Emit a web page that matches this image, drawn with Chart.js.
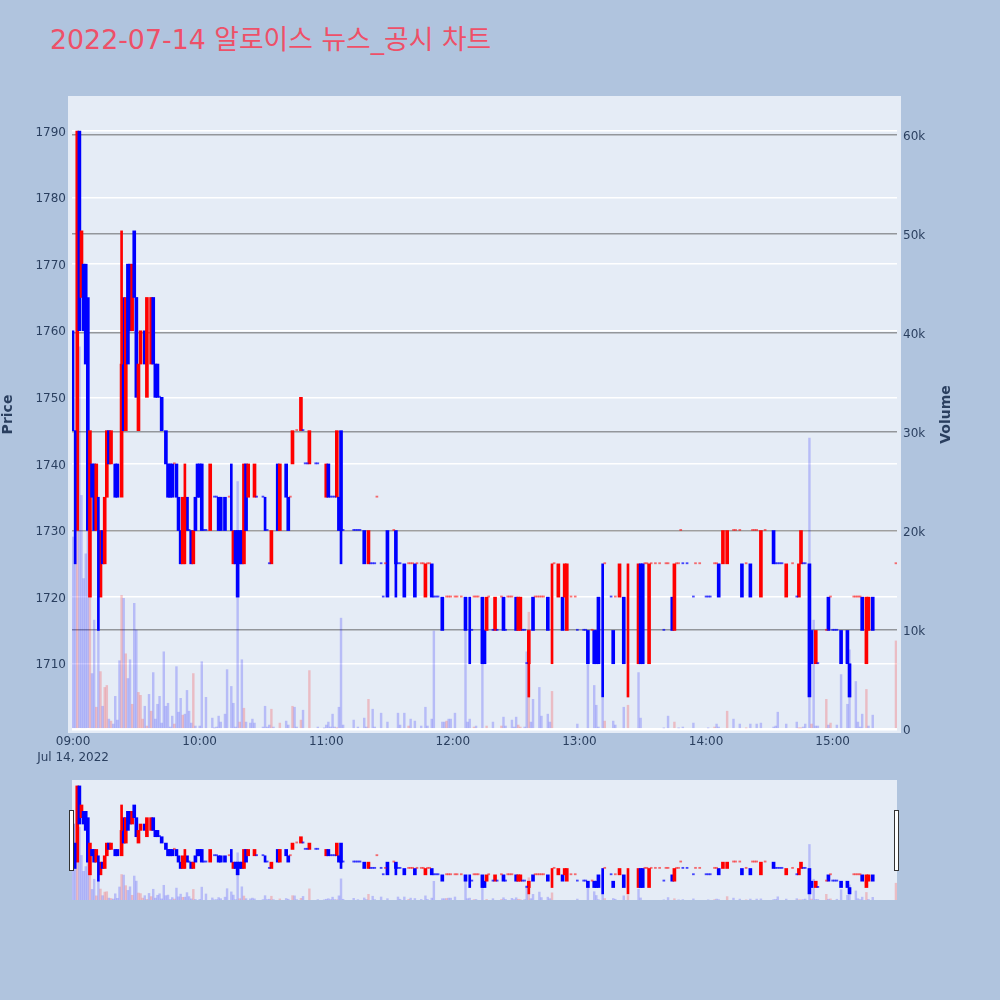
<!DOCTYPE html>
<html lang="ko">
<head>
<meta charset="utf-8">
<title>2022-07-14 알로이스 뉴스_공시 차트</title>
<script src="https://cdn.jsdelivr.net/npm/chart.js@4"></script>
<style>
  html, body { margin: 0; padding: 0; background: #b0c4de; }
  .c-site { position: relative; width: 1000px; height: 1000px; overflow: hidden; }
  .c-title {
    position: absolute; left: 50px; top: 21px; margin: 0; white-space: nowrap;
    font: 400 26.8px "DejaVu Sans", "Noto Sans CJK KR", sans-serif; line-height: 38px; color: #ee5068;
  }
  canvas { position: absolute; left: 0; }
  #myChart { top: 0; }
  #mySlider { top: 770px; }
</style>
</head>
<body>
<div class="c-site">
  <h1 class="c-title">2022-07-14 알로이스 뉴스_공시 차트</h1>
  <canvas id="myChart" width="1000" height="780"></canvas>
  <canvas id="mySlider" width="1000" height="140"></canvas>
</div>
<script>
// minutes after 09:00
const candleTimes = [
  0, 1, 2, 3, 4, 5, 6, 7, 8, 9,
  10, 11, 12, 13, 14, 15, 16, 17, 18, 20,
  21, 23, 24, 25, 26, 27, 28, 29, 30, 31,
  32, 34, 35, 37, 38, 39, 40, 41, 42,
  44, 45, 46, 47, 48, 49, 50, 51, 52, 53,
  54, 55, 56, 57, 58, 59, 60, 61, 62, 63,
  65, 67, 68, 69, 70, 72, 74, 75, 76, 77,
  78, 79, 80, 81, 82, 83, 86, 87, 90, 91,
  92, 93, 94, 97, 98, 101, 102, 103, 104, 106,
  108, 109, 110, 111, 112, 115, 116, 120, 121, 122,
  123, 124, 125, 126, 127, 128, 133, 134, 135, 136,
  138, 140, 141, 142, 143, 144, 146, 147, 148, 149,
  152, 153, 154, 155, 157, 159, 160, 161, 162, 163,
  165, 166, 167, 168, 169, 170, 171, 172, 173, 175,
  177, 178, 179, 181, 182, 184, 186, 188, 189, 190,
  191, 192, 194, 195, 196, 197, 199, 200, 201, 203,
  204, 205, 206, 207, 208, 210, 211, 212, 213, 214,
  215, 216, 218, 219, 220, 221, 222, 223, 225, 227,
  228, 230, 232, 233, 234, 236, 238, 239, 242, 243,
  244, 246, 247, 248, 249, 251, 252, 255, 256, 257,
  259, 261, 263, 268, 269, 270, 271, 272, 273, 274,
  276, 278, 280, 281, 282, 284, 285, 286, 287, 288,
  289, 291, 294, 295, 297, 300, 301, 302, 304, 305,
  306, 308, 310, 313, 314, 316, 317, 319, 321, 322,
  323, 324, 326, 328, 332, 333, 334, 335, 336, 338,
  341, 343, 344, 345, 346, 347, 349, 350, 352, 353,
  357, 358, 359, 360, 361, 362, 364, 367, 368, 370,
  371, 372, 373, 374, 376, 377, 379, 390,
];
const candleLows = [
  1745, 1725, 1730, 1760, 1765, 1760, 1755, 1730, 1720, 1735,
  1730, 1730, 1715, 1720, 1725, 1725, 1735, 1740, 1740, 1735,
  1735, 1735, 1745, 1745, 1755, 1760, 1760, 1765, 1750, 1745,
  1755, 1755, 1750, 1755, 1755, 1750, 1750, 1750, 1745,
  1740, 1735, 1735, 1735, 1740, 1735, 1730, 1725, 1725, 1725,
  1730, 1730, 1725, 1725, 1730, 1735, 1735, 1730, 1730, 1730,
  1730, 1735, 1735, 1730, 1730, 1730, 1735, 1730, 1725, 1725,
  1720, 1725, 1725, 1725, 1730, 1735, 1735, 1735, 1735, 1730,
  1730, 1725, 1725, 1730, 1730, 1735, 1730, 1735, 1740, 1745,
  1745, 1745, 1740, 1740, 1740, 1740, 1740, 1735, 1735, 1735,
  1735, 1735, 1735, 1730, 1730, 1730, 1730, 1730, 1730, 1730,
  1725, 1725, 1725, 1725, 1725, 1735, 1725, 1720, 1725, 1720,
  1730, 1725, 1725, 1725, 1720, 1725, 1725, 1725, 1720, 1725,
  1725, 1725, 1720, 1725, 1725, 1720, 1720, 1720, 1720, 1715,
  1720, 1720, 1720, 1720, 1720, 1720, 1715, 1710, 1715, 1720,
  1720, 1720, 1710, 1710, 1715, 1720, 1715, 1715, 1715, 1720,
  1715, 1715, 1720, 1720, 1720, 1715, 1715, 1715, 1715, 1715,
  1710, 1710, 1715, 1720, 1720, 1720, 1720, 1720, 1715, 1710,
  1725, 1720, 1715, 1720, 1715, 1720, 1720, 1715, 1715, 1715,
  1710, 1715, 1710, 1710, 1710, 1705, 1725, 1720, 1710, 1720,
  1720, 1710, 1705, 1710, 1710, 1710, 1725, 1725, 1710, 1725,
  1725, 1725, 1715, 1725, 1725, 1715, 1715, 1725, 1725, 1730,
  1725, 1725, 1720, 1725, 1725, 1720, 1720, 1720, 1725, 1725,
  1720, 1725, 1725, 1730, 1730, 1730, 1720, 1725, 1720, 1730,
  1730, 1730, 1720, 1730, 1725, 1725, 1725, 1725, 1725, 1720,
  1725, 1720, 1720, 1725, 1725, 1725, 1705, 1710, 1710, 1710,
  1715, 1715, 1720, 1715, 1715, 1715, 1710, 1710, 1705, 1720,
  1720, 1720, 1720, 1715, 1710, 1715, 1715, 1725,
];
const candleHighs = [
  1760, 1745, 1790, 1790, 1775, 1770, 1770, 1765, 1745, 1740,
  1740, 1740, 1735, 1730, 1730, 1735, 1745, 1745, 1745, 1740,
  1740, 1755, 1765, 1765, 1770, 1770, 1770, 1775, 1765, 1755,
  1760, 1760, 1765, 1765, 1765, 1755, 1755, 1750, 1750,
  1745, 1740, 1740, 1740, 1740, 1740, 1735, 1730, 1735, 1740,
  1735, 1730, 1730, 1730, 1735, 1740, 1740, 1740, 1730, 1730,
  1740, 1735, 1735, 1735, 1735, 1735, 1735, 1740, 1730, 1730,
  1730, 1730, 1730, 1740, 1740, 1740, 1740, 1735, 1735, 1735,
  1730, 1725, 1730, 1740, 1740, 1740, 1735, 1735, 1745, 1745,
  1750, 1745, 1740, 1740, 1745, 1740, 1740, 1740, 1740, 1735,
  1735, 1735, 1745, 1735, 1745, 1730, 1730, 1730, 1730, 1730,
  1730, 1730, 1725, 1725, 1725, 1735, 1725, 1720, 1725, 1730,
  1730, 1730, 1725, 1725, 1725, 1725, 1725, 1725, 1725, 1725,
  1725, 1725, 1725, 1725, 1725, 1725, 1720, 1720, 1720, 1720,
  1720, 1720, 1720, 1720, 1720, 1720, 1720, 1720, 1715, 1720,
  1720, 1720, 1720, 1715, 1720, 1720, 1715, 1720, 1715, 1720,
  1720, 1715, 1720, 1720, 1720, 1720, 1720, 1720, 1715, 1715,
  1710, 1715, 1720, 1720, 1720, 1720, 1720, 1720, 1720, 1725,
  1725, 1725, 1720, 1725, 1725, 1720, 1720, 1715, 1715, 1715,
  1715, 1715, 1715, 1715, 1720, 1725, 1725, 1720, 1715, 1720,
  1725, 1720, 1725, 1725, 1725, 1725, 1725, 1725, 1725, 1725,
  1725, 1725, 1715, 1725, 1725, 1720, 1725, 1725, 1725, 1730,
  1725, 1725, 1720, 1725, 1725, 1720, 1720, 1720, 1725, 1725,
  1725, 1730, 1730, 1730, 1730, 1730, 1725, 1725, 1725, 1730,
  1730, 1730, 1730, 1730, 1730, 1725, 1725, 1725, 1725, 1725,
  1725, 1720, 1725, 1730, 1725, 1725, 1725, 1715, 1715, 1710,
  1715, 1720, 1720, 1715, 1715, 1715, 1715, 1715, 1710, 1720,
  1720, 1720, 1720, 1720, 1720, 1720, 1720, 1725,
];
const candleSides = [
  'b', 'b', 'r', 'b', 'r', 'b', 'b', 'b', 'r', 'b',
  'b', 'r', 'b', 'r', 'b', 'r', 'r', 'b', 'r', 'b',
  'b', 'r', 'b', 'r', 'b', 'b', 'r', 'b', 'b', 'r',
  'r', 'b', 'r', 'r', 'b', 'b', 'b', 'b', 'b',
  'b', 'b', 'b', 'b', 'r', 'b', 'b', 'b', 'r', 'r',
  'b', 'b', 'b', 'r', 'b', 'b', 'b', 'b', 'b', 'b',
  'r', 'b', 'b', 'b', 'b', 'b', 'r', 'b', 'r', 'b',
  'b', 'b', 'b', 'r', 'b', 'r', 'r', 'b', 'b', 'b',
  'b', 'b', 'r', 'b', 'r', 'b', 'b', 'r', 'r', 'r',
  'r', 'b', 'b', 'b', 'r', 'b', 'b', 'r', 'b', 'b',
  'b', 'b', 'r', 'b', 'b', 'b', 'b', 'b', 'b', 'b',
  'b', 'r', 'b', 'b', 'b', 'r', 'b', 'b', 'r', 'b',
  'r', 'b', 'b', 'b', 'b', 'r', 'r', 'r', 'b', 'r',
  'r', 'r', 'r', 'r', 'r', 'b', 'b', 'b', 'b', 'b',
  'r', 'r', 'r', 'r', 'r', 'r', 'b', 'b', 'b', 'r',
  'r', 'r', 'b', 'b', 'r', 'r', 'b', 'r', 'b', 'r',
  'b', 'b', 'r', 'r', 'r', 'b', 'r', 'r', 'b', 'b',
  'b', 'r', 'b', 'r', 'r', 'r', 'r', 'r', 'b', 'r',
  'r', 'r', 'b', 'r', 'r', 'r', 'r', 'b', 'b', 'b',
  'b', 'r', 'b', 'b', 'b', 'b', 'r', 'b', 'b', 'r',
  'r', 'b', 'r', 'r', 'b', 'b', 'r', 'r', 'r', 'r',
  'r', 'r', 'b', 'r', 'r', 'b', 'r', 'r', 'r', 'r',
  'b', 'b', 'b', 'r', 'r', 'b', 'b', 'b', 'r', 'r',
  'b', 'r', 'r', 'r', 'r', 'r', 'b', 'r', 'b', 'r',
  'r', 'r', 'r', 'r', 'b', 'b', 'b', 'b', 'b', 'r',
  'r', 'b', 'r', 'r', 'b', 'b', 'b', 'b', 'r', 'b',
  'r', 'b', 'r', 'b', 'b', 'b', 'b', 'b', 'b', 'r',
  'r', 'r', 'r', 'b', 'r', 'r', 'b', 'r',
];
// candles that are drawn narrow, and the wick parts sticking out of a body
const narrowTimes = [0, 1, 12, 53, 75, 91, 188, 227, 251, 263];
const wickTimes = [23, 127, 153, 216];
const wickLows = [1755, 1725, 1720, 1705];
const wickHighs = [1775, 1730, 1725, 1710];
const wickSides = ['r', 'b', 'b', 'r'];

const volumeTimes = [
  0, 1, 2, 3, 4, 5, 6, 7, 8, 9,
  10, 11, 12, 13, 14, 15, 16, 17, 18, 19,
  20, 21, 22, 23, 24, 25, 26, 27, 28, 29,
  30, 31, 32, 33, 34, 35, 36, 37, 38, 39,
  40, 41, 42, 43, 44, 45, 46, 47, 48, 49,
  50, 51, 52, 53, 54, 55, 56, 57, 58, 60,
  61, 63, 66, 67, 68, 69, 70, 72, 73, 75,
  76, 77, 78, 79, 80, 81, 82, 84, 85, 86,
  90, 91, 92, 93, 94, 95, 98, 101, 102, 104,
  105, 106, 108, 109, 112, 116, 119, 120, 121, 122,
  123, 124, 125, 126, 127, 128, 133, 135, 138, 139,
  140, 142, 143, 146, 149, 154, 155, 157, 159, 160,
  162, 165, 167, 168, 170, 171, 175, 176, 177, 178,
  179, 181, 186, 187, 188, 190, 191, 194, 196, 199,
  203, 204, 205, 208, 209, 210, 211, 212, 214, 215,
  216, 217, 218, 221, 222, 225, 226, 227, 239, 244,
  247, 248, 249, 251, 252, 256, 257, 261, 263, 268,
  269, 280, 282, 285, 287, 289, 294, 301, 304, 305,
  306, 310, 313, 316, 319, 321, 324, 326, 332, 333,
  334, 338, 343, 344, 345, 346, 347, 349, 350, 351,
  352, 353, 357, 358, 359, 362, 364, 367, 368, 371,
  372, 373, 374, 376, 377, 379, 390,
];
const volumeValues = [
  19400, 20000, 20000, 38600, 23600, 15200, 17700, 42500, 13300, 5600,
  11000, 2200, 10000, 5800, 2300, 4200, 4400, 1000, 800, 500,
  3300, 900, 6900, 13500, 13200, 7600, 5100, 7000, 2500, 12700,
  10000, 3700, 3400, 1000, 2300, 300, 3500, 1800, 5700, 1000,
  2500, 3300, 600, 7800, 2300, 2600, 200, 1300, 500, 6300,
  1700, 3100, 1400, 1500, 3900, 1800, 600, 5600, 300, 300,
  6800, 3200, 1100, 100, 200, 1300, 700, 1500, 6000, 4300,
  2600, 200, 25000, 700, 7000, 2100, 700, 600, 1000, 600,
  200, 2300, 200, 400, 2000, 200, 600, 800, 400, 2300,
  2200, 200, 900, 1900, 5900, 200, 100, 400, 700, 200,
  1500, 200, 100, 2200, 11200, 400, 900, 200, 1100, 200,
  3000, 2000, 200, 1600, 700, 1600, 400, 1600, 300, 1000,
  800, 300, 2200, 300, 1000, 9900, 700, 700, 800, 1000,
  1000, 1600, 10700, 700, 1000, 200, 300, 7500, 300, 700,
  300, 1200, 300, 900, 200, 1200, 400, 200, 200, 7800,
  11800, 700, 3000, 4200, 1300, 1500, 700, 3800, 500, 6500,
  4400, 2400, 200, 3100, 800, 800, 400, 2200, 2400, 5700,
  1100, 100, 1300, 700, 100, 200, 600, 100, 200, 500,
  200, 1800, 1000, 500, 100, 500, 500, 600, 200, 300,
  1700, 500, 700, 100, 100, 200, 500, 29400, 500, 11000,
  300, 300, 3000, 400, 600, 400, 5500, 2500, 8000, 4800,
  700, 200, 1500, 4000, 300, 1400, 8900,
];
const volumeSides = [
  'b', 'b', 'r', 'b', 'b', 'b', 'b', 'b', 'r', 'b',
  'b', 'r', 'b', 'r', 'b', 'r', 'r', 'b', 'r', 'b',
  'b', 'b', 'b', 'r', 'b', 'r', 'b', 'b', 'r', 'b',
  'b', 'r', 'r', 'r', 'b', 'r', 'b', 'r', 'b', 'b',
  'b', 'b', 'b', 'b', 'b', 'b', 'b', 'b', 'r', 'b',
  'b', 'b', 'r', 'b', 'b', 'b', 'b', 'r', 'b', 'b',
  'b', 'b', 'b', 'b', 'b', 'b', 'b', 'b', 'b', 'b',
  'b', 'b', 'b', 'r', 'b', 'r', 'b', 'b', 'b', 'b',
  'b', 'b', 'b', 'b', 'r', 'b', 'r', 'b', 'b', 'r',
  'b', 'b', 'r', 'b', 'r', 'b', 'b', 'b', 'b', 'b',
  'b', 'b', 'r', 'b', 'b', 'b', 'b', 'b', 'b', 'b',
  'r', 'b', 'b', 'b', 'b', 'b', 'b', 'b', 'r', 'b',
  'b', 'b', 'b', 'b', 'b', 'b', 'b', 'b', 'r', 'b',
  'b', 'b', 'b', 'b', 'b', 'r', 'b', 'b', 'r', 'b',
  'r', 'b', 'b', 'b', 'b', 'b', 'r', 'r', 'b', 'b',
  'r', 'b', 'b', 'b', 'b', 'b', 'b', 'r', 'b', 'b',
  'b', 'b', 'b', 'b', 'r', 'b', 'b', 'b', 'r', 'b',
  'b', 'b', 'b', 'r', 'b', 'b', 'b', 'b', 'r', 'b',
  'b', 'r', 'b', 'b', 'r', 'b', 'b', 'b', 'b', 'b',
  'b', 'b', 'b', 'r', 'r', 'b', 'b', 'b', 'r', 'b',
  'b', 'b', 'r', 'b', 'r', 'b', 'b', 'b', 'b', 'b',
  'b', 'b', 'b', 'r', 'b', 'b', 'r',
];

const priceTicks = [1710, 1720, 1730, 1740, 1750, 1760, 1770, 1780, 1790];
const volumeTicks = [0, 10000, 20000, 30000, 40000, 50000, 60000];
const timeTicks = [0, 60, 120, 180, 240, 300, 360];
const timeLabels = ['09:00', '10:00', '11:00', '12:00', '13:00', '14:00', '15:00'];
const dateLabel = 'Jul 14, 2022';

const fontFamily = '"DejaVu Sans", verdana, arial, sans-serif';
const textColor = '#2a3f5f';
const candleColors = { r: '#ff0000', b: '#0000ff' };
const flatColors = { r: 'rgba(255, 0, 0, 0.55)', b: 'rgba(0, 0, 255, 0.7)' };
const volumeColors = { r: 'rgba(255, 0, 0, 0.2)', b: 'rgba(0, 0, 255, 0.2)' };

const makeDatasets = function () {
  const thick = [];
  const thin = [];
  candleTimes.forEach(function (t, i) {
    const flat = candleLows[i] === candleHighs[i];
    const bar = { x: t, y: [candleLows[i], candleHighs[i]], color: (flat ? flatColors : candleColors)[candleSides[i]] };
    if (flat || narrowTimes.includes(t)) {
      thin.push(bar);
    } else {
      thick.push(bar);
    }
  });
  wickTimes.forEach(function (t, i) {
    thin.push({ x: t, y: [wickLows[i], wickHighs[i]], color: candleColors[wickSides[i]] });
  });
  return [
    {
      label: 'Price',
      yAxisID: 'y',
      data: thick,
      backgroundColor: thick.map((b) => b.color),
      barThickness: 3,
      order: 2,
    },
    {
      label: 'Price thin',
      yAxisID: 'y',
      data: thin,
      backgroundColor: thin.map((b) => b.color),
      barThickness: 2,
      minBarLength: 1.2,
      order: 1,
    },
    {
      label: 'Volume',
      yAxisID: 'y1',
      data: volumeTimes.map((t, i) => ({ x: t, y: volumeValues[i] })),
      backgroundColor: volumeSides.map((s) => volumeColors[s]),
      barThickness: 1.8,
      order: 3,
    },
  ];
};

// plot background is 4px bigger than the axes in the main chart
const plotBackground = {
  id: 'plotBackground',
  beforeDraw(chart, args, options) {
    const { ctx, chartArea: { left, top, width, height } } = chart;
    const grow = options.grow;
    ctx.save();
    ctx.fillStyle = '#e5ecf6';
    ctx.fillRect(left - grow, top - grow, width + grow * 2, height + grow * 2);
    ctx.restore();
  },
};

// y labels sit a bit high with this font
const nudgeLabels = {
  id: 'nudgeLabels',
  afterLayout(chart) {
    [chart.scales.y, chart.scales.y1].forEach(function (scale) {
      scale.getLabelItems().forEach(function (item) {
        item.textOffset += 1.5;
      });
    });
  },
};

// chart.js turns a right axis title the other way, so this one is drawn by hand
const volumeTitle = {
  id: 'volumeTitle',
  afterDraw(chart) {
    const { ctx, chartArea: { top, bottom } } = chart;
    ctx.save();
    ctx.translate(chart.scales.y1.right - 8, (top + bottom) / 2);
    ctx.rotate(-Math.PI / 2);
    ctx.fillStyle = textColor;
    ctx.font = 'bold 14px ' + fontFamily;
    ctx.textAlign = 'center';
    ctx.textBaseline = 'middle';
    ctx.fillText('Volume', 0, 0);
    ctx.restore();
  },
};

const sliderHandles = {
  id: 'sliderHandles',
  afterDraw(chart) {
    const { ctx, chartArea: { left, right, top } } = chart;
    ctx.save();
    ctx.fillStyle = '#ffffff';
    ctx.strokeStyle = '#333333';
    [left - 2, right - 2].forEach(function (x) {
      ctx.fillRect(x - 0.5, top + 30.5, 4, 60);
      ctx.strokeRect(x - 0.5, top + 30.5, 4, 60);
    });
    ctx.restore();
  },
};

const makeChart = function () {
  const config = {
    type: 'bar',
    data: { datasets: makeDatasets() },
    options: {
      responsive: false,
      animation: false,
      devicePixelRatio: 1,
      grouped: false,
      layout: { padding: { top: 100, right: 46, bottom: 0, left: 0 } },
      plugins: { legend: { display: false }, tooltip: { enabled: false }, plotBackground: { grow: 4 } },
      scales: {
        x: {
          type: 'linear',
          offset: false,
          min: -0.5,
          max: 390.5,
          grid: { display: false, drawTicks: false },
          border: { display: false },
          afterFit(scale) {
            scale.height = 51;
          },
          afterBuildTicks(scale) {
            scale.ticks = timeTicks.map((v) => ({ value: v }));
          },
          ticks: {
            autoSkip: false,
            maxRotation: 0,
            padding: 5,
            color: textColor,
            font: { family: fontFamily, size: 12, lineHeight: 1.3 },
            callback(value) {
              const label = timeLabels[timeTicks.indexOf(value)];
              return value === 0 ? [label, dateLabel] : label;
            },
          },
        },
        y: {
          position: 'left',
          bounds: 'data',
          min: 1700.2,
          max: 1794.65,
          grid: { color: '#ffffff', lineWidth: 1.5, drawTicks: false },
          border: { display: false },
          afterFit(scale) {
            scale.width = 72;
          },
          afterBuildTicks(scale) {
            scale.ticks = priceTicks.map((v) => ({ value: v }));
          },
          ticks: {
            padding: 6,
            color: textColor,
            font: { family: fontFamily, size: 12 },
            callback: (value) => String(value),
          },
          title: {
            display: true,
            text: 'Price',
            color: textColor,
            padding: 0,
            font: { family: fontFamily, size: 14, weight: 'bold' },
          },
        },
        y1: {
          position: 'right',
          bounds: 'data',
          min: 0,
          max: 63550,
          grid: {
            drawTicks: false,
            color: (c) => (c.tick.value === 0 ? '#ffffff' : 'rgba(80, 80, 80, 0.55)'),
            lineWidth: (c) => (c.tick.value === 0 ? 2.5 : 1.5),
          },
          border: { display: false },
          afterFit(scale) {
            scale.width = 57;
          },
          afterBuildTicks(scale) {
            scale.ticks = volumeTicks.map((v) => ({ value: v }));
          },
          ticks: {
            padding: 6,
            color: textColor,
            font: { family: fontFamily, size: 12 },
            callback: (value) => (value === 0 ? '0' : value / 1000 + 'k'),
          },
        },
      },
    },
    plugins: [plotBackground, nudgeLabels, volumeTitle],
  };
  new Chart(document.getElementById('myChart'), config);
};

const makeSlider = function () {
  const config = {
    type: 'bar',
    data: { datasets: makeDatasets() },
    options: {
      responsive: false,
      animation: false,
      devicePixelRatio: 1,
      grouped: false,
      layout: { padding: { top: 10, right: 103, bottom: 10, left: 72 } },
      plugins: { legend: { display: false }, tooltip: { enabled: false }, plotBackground: { grow: 0 } },
      scales: {
        x: { type: 'linear', offset: false, min: -0.5, max: 390.5, display: false },
        y: { bounds: 'data', min: 1700.2, max: 1794.65, display: false },
        y1: { bounds: 'data', min: 0, max: 63550, display: false },
      },
    },
    plugins: [plotBackground, sliderHandles],
  };
  new Chart(document.getElementById('mySlider'), config);
};

const init = function () {
  makeChart();
  makeSlider();
};
document.addEventListener('DOMContentLoaded', init);
</script>
</body>
</html>
